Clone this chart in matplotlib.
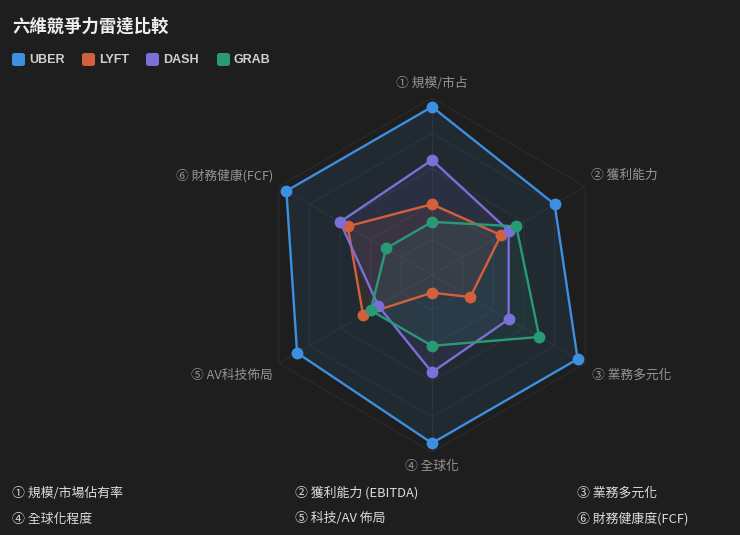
import numpy as np
import matplotlib
matplotlib.use('Agg')
import matplotlib.pyplot as plt
from matplotlib.patches import FancyBboxPatch

plt.rcParams['font.family'] = ['Noto Sans CJK TC', 'DejaVu Sans']

# data
axis_labels = ['① 規模/市占', '② 獲利能力', '③ 業務多元化', '④ 全球化', '⑤ AV科技佈局', '⑥ 財務健康(FCF)']
series_names = ['UBER', 'LYFT', 'DASH', 'GRAB']
uber = [95, 80, 95, 95, 88, 95]
lyft = [40, 45, 25, 10, 45, 55]
dash = [65, 50, 50, 55, 35, 60]
grab = [30, 55, 70, 40, 40, 30]
colors = ['#3d8fe0', '#d2603c', '#7c6fd8', '#2a9a76']
notes = ['① 規模/市場佔有率', '② 獲利能力 (EBITDA)', '③ 業務多元化',
         '④ 全球化程度', '⑤ 科技/AV 佈局', '⑥ 財務健康度(FCF)']

W, H = 740, 535
bg = '#1e1e1e'
fig = plt.figure(figsize=(W / 100, H / 100), dpi=100, facecolor=bg)

def fx(px):
    return px / W

def fy(py):
    return 1 - py / H

# radar area: centre (432,275), radius 177 px
cx, cy, R = 432, 275, 177
ax = fig.add_axes([fx(cx - R), fy(cy + R), 2 * R / W, 2 * R / H], projection='polar')
ax.set_facecolor('none')
ax.set_theta_zero_location('N')
ax.set_theta_direction(-1)
ax.set_ylim(0, 100)
ax.set_xticks([])
ax.set_yticks([])
ax.grid(False)
ax.spines['polar'].set_visible(False)

n = len(axis_labels)
theta = np.linspace(0, 2 * np.pi, n, endpoint=False)
tc = np.append(theta, theta[0])

# hexagon grid + spokes
for lvl in [20, 40, 60, 80, 100]:
    ax.plot(tc, [lvl] * (n + 1), color='#282b2f', lw=0.8, zorder=1)
for t in theta:
    ax.plot([t, t], [0, 100], color='#282b2f', lw=0.8, zorder=1)

for name, vals, c in zip(series_names, [uber, lyft, dash, grab], colors):
    v = np.append(vals, vals[0])
    ax.fill(tc, v, color=c, alpha=0.1, lw=0, zorder=2)
    ax.plot(tc, v, color=c, lw=1.7, zorder=3)
    ax.plot(theta, vals, 'o', color=c, ms=7.5, zorder=4)

# axis names (offsets in pixels from the outer vertex)
offsets = [(0, 15, 'center'), (6, 11, 'left'), (7, -12, 'left'),
           (0, -14, 'center'), (-6, -12, 'right'), (-5, 11, 'right')]
for t, lab, (dx, dy, ha) in zip(theta, axis_labels, offsets):
    ax.annotate(lab, xy=(t, 100), xytext=(dx, dy), textcoords='offset pixels',
                ha=ha, va='center', color='#959595', fontsize=9.2,
                annotation_clip=False)

# title
fig.text(fx(12), fy(27), '六維競爭力雷達比較', color='#eeeeee', fontsize=12.5,
         fontweight='bold', va='center', ha='left')

# legend
leg_x = [12, 82, 146, 217]
for x0, name, c in zip(leg_x, series_names, colors):
    fig.add_artist(FancyBboxPatch((fx(x0), fy(66)), fx(13), 13 / H,
                                  boxstyle='round,pad=0,rounding_size=0.004',
                                  transform=fig.transFigure, fc=c, ec='none'))
    fig.text(fx(x0 + 17), fy(60), name, color='#d0d0d0', fontsize=9.0,
             fontweight='bold', va='center', ha='left',
             family=['Liberation Sans', 'DejaVu Sans'])

# footnotes
note_x = [12, 295, 577]
note_y = [493, 519]
for i, txt in enumerate(notes):
    fig.text(fx(note_x[i % 3]), fy(note_y[i // 3]), txt, color='#dcdcdc',
             fontsize=9.3, fontweight='medium', va='center', ha='left')

fig.savefig('out.png', dpi=100, facecolor=bg)
